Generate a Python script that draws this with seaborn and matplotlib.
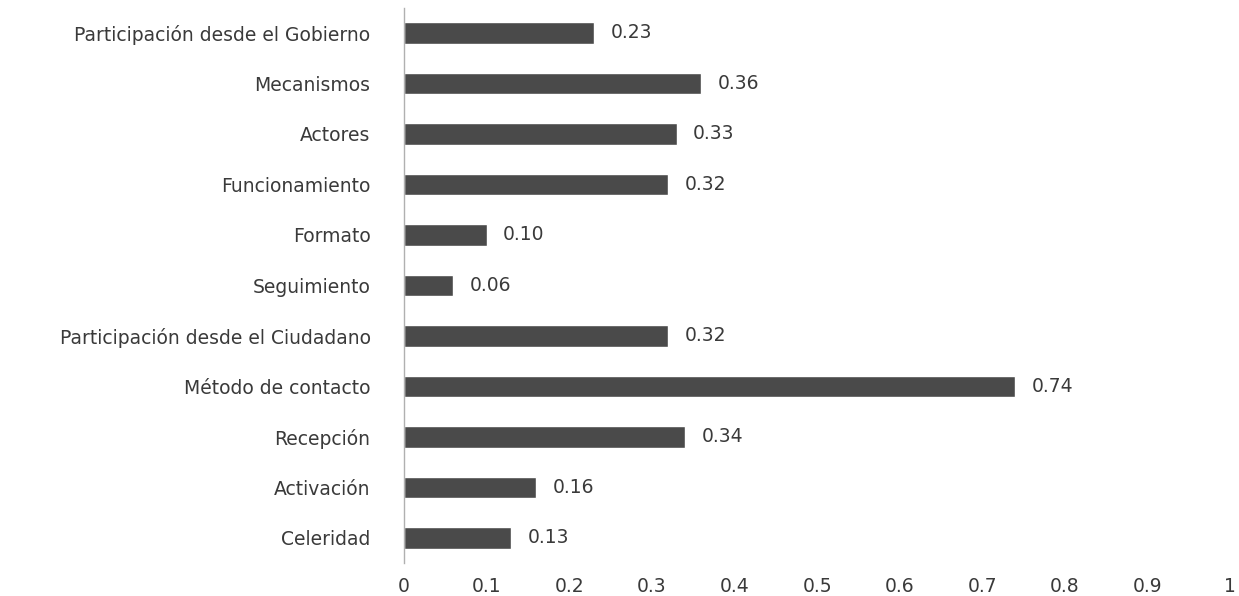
import matplotlib
matplotlib.use("Agg")
import matplotlib.pyplot as plt
import seaborn as sns
import pandas as pd

categories = ["Participación desde el Gobierno", "Mecanismos", "Actores", "Funcionamiento",
              "Formato", "Seguimiento", "Participación desde el Ciudadano", "Método de contacto",
              "Recepción", "Activación", "Celeridad"]
values = [0.23, 0.36, 0.33, 0.32, 0.10, 0.06, 0.32, 0.74, 0.34, 0.16, 0.13]
value_labels = ["0.23", "0.36", "0.33", "0.32", "0.10", "0.06", "0.32", "0.74", "0.34", "0.16", "0.13"]
x_ticks = [0, 0.1, 0.2, 0.3, 0.4, 0.5, 0.6, 0.7, 0.8, 0.9, 1]
x_tick_labels = ["0", "0.1", "0.2", "0.3", "0.4", "0.5", "0.6", "0.7", "0.8", "0.9", "1"]

sns.set_style("white")
plt.rcParams['font.family'] = ['DejaVu Sans']

df = pd.DataFrame({"cat": categories, "val": values})
fig = plt.figure(figsize=(12.39, 5.96), dpi=100)
ax = fig.add_axes([0.326, 0.055, 0.667, 0.932])
sns.barplot(data=df, y="cat", x="val", orient="h", color="#4a4a4a", width=0.42,
            saturation=1, ax=ax)
for i, (v, lab) in enumerate(zip(values, value_labels)):
    ax.text(v + 0.02, i, lab, va="center", ha="left", fontsize=13.5, color="#3a3a3a")
ax.set_xlim(0, 1)
ax.set_ylim(10.5, -0.5)
ax.set_xticks(x_ticks)
ax.set_xticklabels(x_tick_labels)
ax.set_xlabel("")
ax.set_ylabel("")
for s in ["top", "right", "bottom"]:
    ax.spines[s].set_visible(False)
ax.spines["left"].set_color("#b0b0b0")
ax.spines["left"].set_linewidth(1)
ax.tick_params(axis="both", length=0, labelsize=13.5, colors="#3a3a3a")
ax.tick_params(axis="y", pad=24)
ax.tick_params(axis="x", pad=10)
fig.savefig("out.png", dpi=100)
